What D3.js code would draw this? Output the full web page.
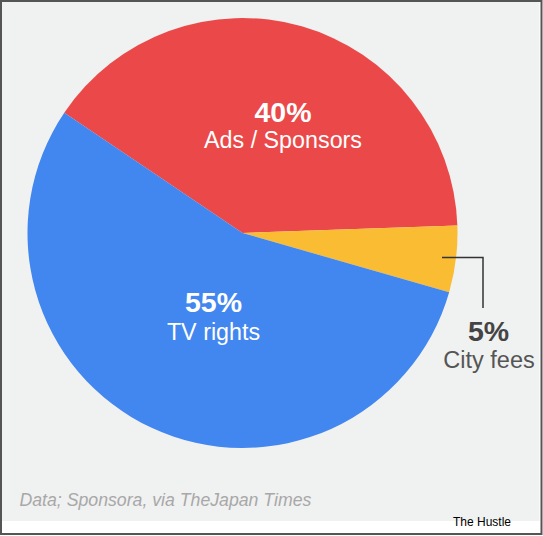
<!DOCTYPE html>
<html>
<head>
<meta charset="utf-8">
<script src="https://cdn.jsdelivr.net/npm/d3@7"></script>
<style>
html,body{margin:0;padding:0;background:#fff;}
svg{display:block;font-family:"Liberation Sans",Arial,sans-serif;}
</style>
</head>
<body>
<svg id="chart" width="543" height="536"></svg>
<script>
const categories = ["Ads / Sponsors", "City fees", "TV rights"];
const values = [40, 5, 55];
const valueLabels = ["40%", "5%", "55%"];
const colors = ["#eb4949", "#f9bc33", "#4286f0"];
const sourceNote = "Data; Sponsora, via TheJapan Times";
const brand = "The Hustle";

const svg = d3.select("#chart");
const W = 543, H = 536;

// frame
svg.append("rect").attr("x", 0).attr("y", 0).attr("width", W).attr("height", H).attr("fill", "#fff");
svg.append("rect").attr("x", 2).attr("y", 2).attr("width", 537.5).attr("height", 519).attr("fill", "#f0f1f1");
svg.append("rect").attr("x", 1).attr("y", 1).attr("width", W - 2.5).attr("height", H - 3)
  .attr("fill", "none").attr("stroke", "#555").attr("stroke-width", 2);

const cx = 242.5, cy = 233, R = 215;
const startA = -56 * Math.PI / 180;
const pie = d3.pie().sort(null).startAngle(startA).endAngle(startA + 2 * Math.PI);
const arcs = pie(values);
const arc = d3.arc().innerRadius(0).outerRadius(R);

const g = svg.append("g").attr("transform", `translate(${cx},${cy})`);
g.selectAll("path").data(arcs).enter().append("path")
  .attr("d", arc).attr("fill", (d, i) => colors[i]);

// inside labels for big slices (centre x, percent baseline, label baseline) in px relative to centre
const labelPos = [[40.5, -111, -85], null, [-29, 79, 107]];
arcs.forEach((d, i) => {
  if (!labelPos[i]) return;
  const [lx, py, ly] = labelPos[i];
  g.append("text").attr("x", lx).attr("y", py).attr("text-anchor", "middle")
    .attr("fill", "#fff").attr("font-weight", "bold").attr("font-size", 28.5).text(valueLabels[i]);
  g.append("text").attr("x", lx).attr("y", ly).attr("text-anchor", "middle")
    .attr("fill", "#fff").attr("font-size", 23.3).text(categories[i]);
});

// callout for small slice
const small = arcs[1];
const mid = (small.startAngle + small.endAngle) / 2;
const ax = Math.sin(mid) * (R - 14), ay = -Math.cos(mid) * (R - 14);
const elbowX = 483 - cx;
g.append("path")
  .attr("d", `M${ax},${ay}H${elbowX}V${308 - cy}`)
  .attr("fill", "none").attr("stroke", "#333").attr("stroke-width", 1.5);
g.append("text").attr("x", 488.5 - cx).attr("y", 340.5 - cy).attr("text-anchor", "middle")
  .attr("fill", "#444").attr("font-weight", "bold").attr("font-size", 28.5).text(valueLabels[1]);
g.append("text").attr("x", 489 - cx).attr("y", 368 - cy).attr("text-anchor", "middle")
  .attr("fill", "#555").attr("font-size", 23.5).text(categories[1]);

svg.append("text").attr("x", 19.5).attr("y", 506).attr("fill", "#a8a8a8")
  .attr("font-style", "italic").attr("font-size", 17.7).text(sourceNote);
svg.append("text").attr("x", 453).attr("y", 526).attr("fill", "#000")
  .attr("font-size", 12).text(brand);
</script>
</body>
</html>
